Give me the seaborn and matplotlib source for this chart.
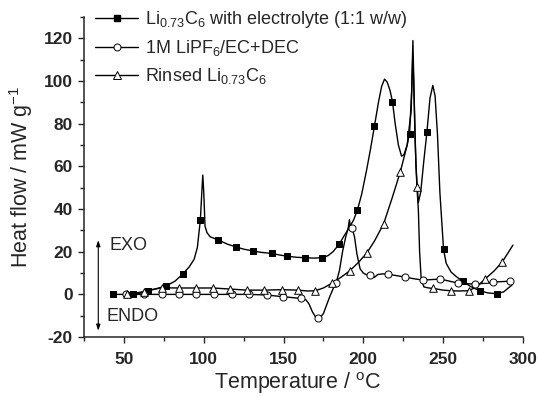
import numpy as np
import pandas as pd
import seaborn as sns
import matplotlib.pyplot as plt
from matplotlib.lines import Line2D
from matplotlib.ticker import MultipleLocator

# Li0.73C6 with electrolyte (curve + marker positions)
t_le = [43.3, 50, 55.4, 60, 65.2, 70, 76.2, 82, 86.8, 91, 94, 96, 97.9, 98.8, 99.4, 100, 100.8, 102, 104,
        108.8, 115, 120, 125, 130.7, 136, 142.7, 148, 152.4, 158, 163.5, 169, 174.4, 178, 181, 185, 188,
        191, 194, 196.3, 199, 202, 204.5, 207, 209.5, 211.5, 213.3, 215, 216.8, 218.3, 220, 222, 224,
        225.5, 227.5, 229, 230.3, 231.1, 231.9, 233, 234.5, 236, 238, 239.9, 241.8, 243.6, 245, 246.5,
        248, 250.3, 252, 255, 258.5, 262.5, 267, 272.9, 278, 283.8, 288, 293.2]
h_le = [0, 0, 0, 0.6, 1.7, 2.6, 3.9, 6.2, 9.5, 13, 16.5, 22, 35.1, 48, 55.9, 48, 32, 29, 27,
        25.6, 23.5, 22.3, 21.2, 20.4, 19.7, 19.2, 18.4, 17.9, 17.4, 17.2, 17.0, 17.2, 18.2, 20, 23.6, 27.5,
        31, 35, 39.5, 47, 58, 68, 78.9, 90, 97.5, 100.9, 99.5, 95.5, 90.3, 80, 70, 64.8,
        65.5, 70, 75.4, 95, 119, 92, 60, 43, 48, 63, 76.2, 92, 98, 93, 75,
        48, 21.1, 14.5, 10.5, 8.2, 6.2, 3.8, 1.7, 0.7, 0.3, 1.2, 4.4]
tm_le = [43.3, 55.4, 65.2, 76.2, 86.8, 97.9, 108.8, 120, 130.7, 142.7, 152.4, 163.5, 174.4, 185,
         196.3, 207, 218.3, 229, 239.9, 250.3, 262.5, 272.9, 283.8]
hm_le = [0, 0, 1.7, 3.9, 9.5, 35.1, 25.6, 22.3, 20.4, 19.2, 17.9, 17.2, 17.2, 23.6,
         39.5, 78.9, 90.3, 75.4, 76.2, 21.1, 6.2, 1.7, 0.3]

# 1M LiPF6/EC+DEC
t_el = [51.3, 62.5, 73.6, 84.3, 95.4, 106.4, 117.4, 128.4, 139.4, 149.9, 161, 164, 166, 168, 170,
        171.9, 173, 175, 177, 179, 181, 183, 185, 187, 189, 190.5, 191.3, 192, 193, 194.5, 196, 198,
        200, 202, 204.3, 207, 209, 212, 215.4, 220, 226.2, 232, 237.3, 242, 248.2, 254, 259.3, 265,
        270.2, 276, 281.3, 287, 292]
h_el = [0, 0, 0, 0, 0, 0, 0, 0, -0.3, -1.1, -1.9, -2.5, -4.5, -8, -10.5,
        -11, -10.8, -9, -5, -1, 2.5, 5.5, 11, 20, 27, 31, 35, 31.5, 31, 27, 19, 12,
        10, 9.2, 9, 8, 9.3, 9.6, 9.5, 8.9, 8.1, 7.3, 6.7, 6.9, 7.2, 6.2, 5.3, 5.0,
        4.8, 5.2, 5.8, 6.0, 6.2]
tm_el = [51.3, 62.5, 73.6, 84.3, 95.4, 106.4, 117.4, 128.4, 139.4, 149.9, 161, 171.9, 183, 193,
         204.3, 215.4, 226.2, 237.3, 248.2, 259.3, 270.2, 281.3, 292]
hm_el = [0, 0, 0, 0, 0, 0, 0, 0, -0.3, -1.1, -1.9, -11, 5.5, 31,
         9, 9.5, 8.1, 6.7, 7.2, 5.3, 4.8, 5.8, 6.2]

# Rinsed Li0.73C6
t_ri = [51.7, 56, 62.5, 68, 73.6, 84.3, 95.4, 105.9, 116.5, 127, 138, 148.9, 159, 165, 169.8, 175,
        180.7, 186, 191.4, 197, 202.3, 207, 212.7, 218, 223.2, 227.5, 230, 231, 231.6, 232.5, 233.6,
        234.5, 235.3, 236.3, 238, 241, 244, 250, 255.1, 260, 266, 271, 276.3, 282, 287.2, 293.8]
h_ri = [0, 0.5, 1.3, 2.3, 3.1, 3, 3, 3, 2.5, 2, 2, 2.2, 2, 1.6, 1.7, 3,
        5.4, 8, 11, 15, 19.5, 25, 33, 45, 57.4, 70, 86, 112, 100, 72, 50.4,
        40, 20, 7, 3.5, 3, 2.8, 2, 1.7, 1.6, 1.7, 3.5, 7.2, 11, 15.3, 23.1]
tm_ri = [51.7, 62.5, 73.6, 84.3, 95.4, 105.9, 116.5, 127, 138, 148.9, 159, 169.8, 180.7, 191.4,
         202.3, 212.7, 223.2, 233.6, 244, 255.1, 266, 276.3, 287.2]
hm_ri = [0, 1.3, 3.1, 3, 3, 3, 2.5, 2, 2, 2.2, 2, 1.7, 5.4, 11,
         19.5, 33, 57.4, 50.4, 2.8, 1.7, 1.7, 7.2, 15.3]

labels = [r"Li$_{\mathregular{0.73}}$C$_{\mathregular{6}}$ with electrolyte (1:1 w/w)",
          r"1M LiPF$_{\mathregular{6}}$/EC+DEC",
          r"Rinsed Li$_{\mathregular{0.73}}$C$_{\mathregular{6}}$"]

sns.set_style("ticks")
plt.rcParams['font.family'] = ['Liberation Sans', 'DejaVu Sans']
plt.rcParams['mathtext.fontset'] = 'custom'
plt.rcParams['mathtext.rm'] = 'Liberation Sans'
plt.rcParams['mathtext.it'] = 'Liberation Sans:italic'
plt.rcParams['axes.unicode_minus'] = False

fig = plt.figure(figsize=(5.39, 3.97), dpi=100)
ax = fig.add_axes([0.156, 0.151, 0.814, 0.806])

series = [
    (t_le, h_le, tm_le, hm_le, 's', 'black', 16),
    (t_el, h_el, tm_el, hm_el, 'o', 'white', 26),
    (t_ri, h_ri, tm_ri, hm_ri, '^', 'white', 30),
]
for t, h, tm, hm, mk, fc, s in series:
    sns.lineplot(x=t, y=h, sort=False, estimator=None, color='black', lw=1.0, ax=ax)
    sns.scatterplot(x=tm, y=hm, marker=mk, s=s, color=fc, edgecolor='black',
                    linewidth=0.7, ax=ax, zorder=3)

ax.set_xlim(25, 300)
ax.set_ylim(-20, 130)
ax.set_xticks([50, 100, 150, 200, 250, 300])
ax.set_yticks([-20, 0, 20, 40, 60, 80, 100, 120])
ax.xaxis.set_minor_locator(MultipleLocator(25))
ax.yaxis.set_minor_locator(MultipleLocator(10))
ax.tick_params(which='major', direction='out', length=4, width=1, labelsize=12.5)
ax.tick_params(which='minor', direction='out', length=3, width=1)
ax.tick_params(axis='x', pad=7)
ax.tick_params(axis='y', pad=4)
for lbl in ax.get_xticklabels() + ax.get_yticklabels():
    lbl.set_fontweight('bold')
sns.despine(ax=ax)
for sp in ax.spines.values():
    sp.set_linewidth(1.1)

ax.set_xlabel("Temperature / $^{\\mathregular{o}}$C", fontsize=15.5)
ax.set_ylabel("Heat flow / mW g$^{\\mathregular{-1}}$", fontsize=15.5)
ax.xaxis.set_label_coords(0.486, -0.105)
ax.yaxis.set_label_coords(-0.113, 0.5)

# EXO / ENDO arrow
ax.annotate('', xy=(33.9, 25.4), xytext=(33.9, -17),
            arrowprops=dict(arrowstyle='<|-|>,head_length=0.35,head_width=0.12',
                            lw=0.8, color='black', shrinkA=0, shrinkB=0))
ax.text(41.2, 23.1, "EXO", fontsize=13, ha='left', va='center')
ax.text(39.3, -10.2, "ENDO", fontsize=13, ha='left', va='center')

handles = [
    Line2D([0], [0], color='black', lw=1, marker='s', markersize=4, markerfacecolor='black'),
    Line2D([0], [0], color='black', lw=1, marker='o', markersize=5, markerfacecolor='white',
           markeredgewidth=0.7),
    Line2D([0], [0], color='black', lw=1, marker='^', markersize=5.5, markerfacecolor='white',
           markeredgewidth=0.7),
]
ax.legend(handles, labels, loc='upper left', bbox_to_anchor=(0.025, 1.025), frameon=False,
          fontsize=13, handlelength=2.4, handletextpad=0.35, labelspacing=0.45,
          borderpad=0, borderaxespad=0)

fig.savefig("out.png", dpi=100)
